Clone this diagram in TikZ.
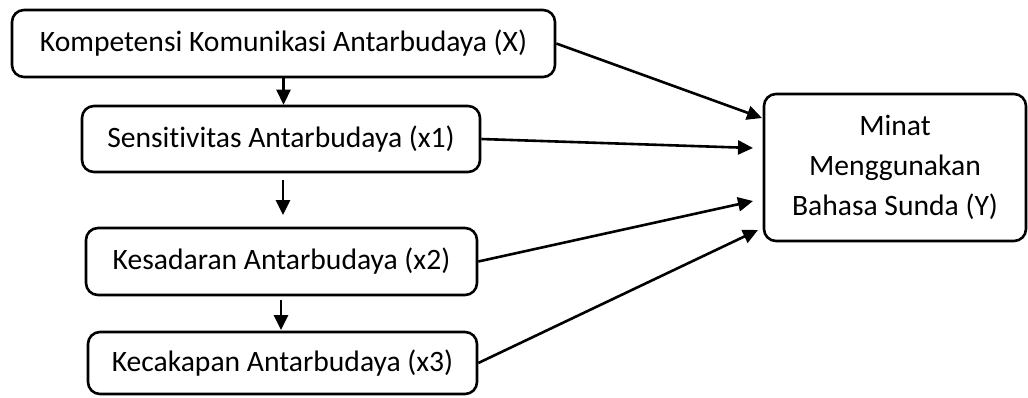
\documentclass[tikz,border=0pt]{standalone}
\usepackage{fontspec}
\setmainfont[Ligatures={NoCommon}]{Carlito}
\usetikzlibrary{arrows.meta}
\begin{document}
\begin{tikzpicture}[x=1pt,y=-1pt,
  box/.style={draw, line width=2.6pt, rounded corners=12pt, inner sep=0pt,
    align=center, font=\fontsize{29.6}{40}\selectfont},
  link/.style={line width=2.6pt, -{Triangle[length=15pt,width=14pt]}}]
\useasboundingbox (0,0) rectangle (1028,397);

% variable boxes
\node[box, minimum width=543pt, minimum height=67pt] (X) at (283.5,43.5)
  {Kompetensi Komunikasi Antarbudaya (X)};
\node[box, minimum width=398pt, minimum height=66pt] (x1) at (281,139)
  {Sensitivitas Antarbudaya (x1)};
\node[box, minimum width=391pt, minimum height=67pt] (x2) at (281.5,261.5)
  {Kesadaran Antarbudaya (x2)};
\node[box, minimum width=389pt, minimum height=62pt] (x3) at (282.5,363)
  {Kecakapan Antarbudaya (x3)};
\node[box, minimum width=262pt, minimum height=147pt] (Y) at (895,167.5)
  {Minat\\Menggunakan\\Bahasa Sunda (Y)};

% arrow ends on the left side of Y
\coordinate (tX) at (762,118);
\coordinate (t1) at (753,148);
\coordinate (t2) at (753,201);
\coordinate (t3) at (758,230);

% ends of the short vertical arrows
\coordinate (a1) at (283,180);
\coordinate (a2) at (283,215);
\coordinate (b1) at (281,300);
\coordinate (b2) at (281,330);

\draw[link] (X.south) -- (X.south |- x1.north);
\draw[link] (a1) -- (a2);
\draw[link] (b1) -- (b2);

\draw[link] (X.east) -- (tX);
\draw[link] (x1.east) -- (t1);
\draw[link] (x2.east) -- (t2);
\draw[link] (x3.east) -- (t3);
\end{tikzpicture}
\end{document}
